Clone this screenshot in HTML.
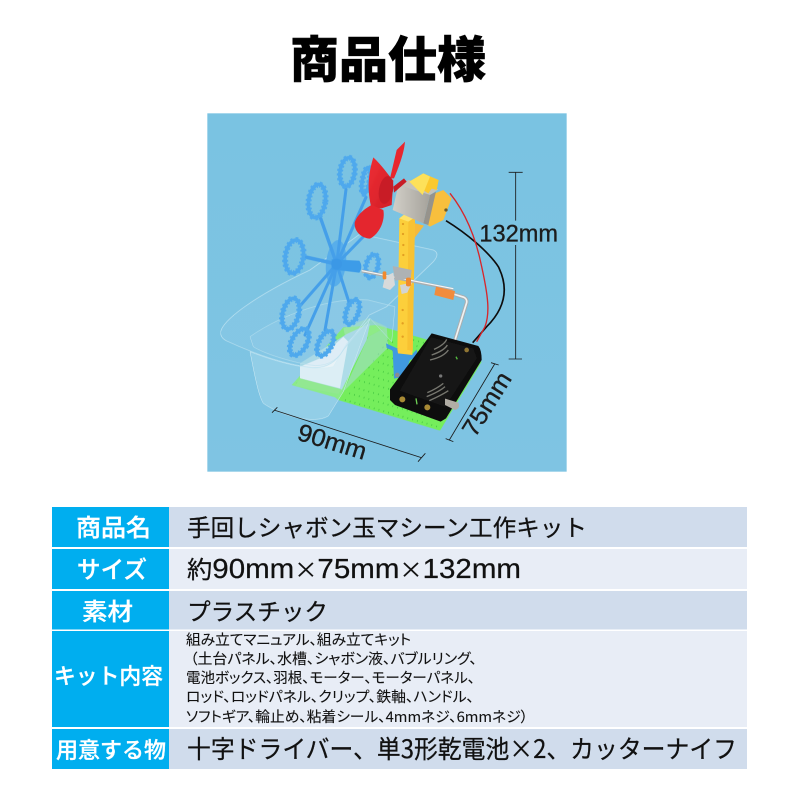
<!DOCTYPE html>
<html lang="ja"><head><meta charset="utf-8"><title>商品仕様</title>
<style>
html,body{margin:0;padding:0;background:#fff}
svg{display:block}
.l{fill:#fff;font-size:24px;font-weight:500;font-family:"Noto Sans CJK JP",sans-serif;text-anchor:middle;stroke:#fff;stroke-width:.3}
.v{fill:#111;font-size:23.5px;font-family:"Noto Sans CJK JP",sans-serif;stroke:#111;stroke-width:.25}
.s{fill:#111;font-size:14.5px;font-family:"Noto Sans CJK JP",sans-serif;stroke:#111;stroke-width:.1;font-feature-settings:"palt"}
</style></head><body>
<svg width="800" height="800" viewBox="0 0 800 800" xmlns="http://www.w3.org/2000/svg">
<defs>
<linearGradient id="bg" x1="0" y1="0" x2="0" y2="1"><stop offset="0" stop-color="#7ac3e2"/><stop offset="1" stop-color="#7fc4e3"/></linearGradient>
<linearGradient id="metal" x1="0" y1="0" x2="1" y2="0"><stop offset="0" stop-color="#d2cfc8"/><stop offset="1" stop-color="#a5a29b"/></linearGradient>
<linearGradient id="red" x1="0" y1="0" x2="1" y2="1"><stop offset="0" stop-color="#ef2e33"/><stop offset="1" stop-color="#d01e28"/></linearGradient>
<filter id="soft" x="0" y="0" width="100%" height="100%"><feGaussianBlur stdDeviation="1"/></filter>
</defs>
<rect width="800" height="800" fill="#fff"/>
<text x="388" y="77" text-anchor="middle" textLength="196" lengthAdjust="spacingAndGlyphs" font-size="49" font-weight="900" fill="#000" stroke="#000" stroke-width=".6" font-family="'Noto Sans CJK JP',sans-serif">商品仕様</text>

<g transform="translate(200 110) scale(.33333)">
<rect x="22" y="10" width="1078" height="1075" fill="url(#bg)"/>
<g filter="url(#soft)">
<!-- board -->
<path d="M275 825 L430 652 L530 645 L685 690 L845 755 L720 962 L415 870 L405 862 Z" fill="#74ee5c"/>
<g stroke="#38bb3a" stroke-width="5" stroke-dasharray="2 13" fill="none" opacity=".9">
<path d="M435 870 L712 950M448 850 L720 930M462 832 L735 910M478 812 L585 842M492 792 L580 818M506 772 L580 795M520 752 L585 772M534 732 L585 747M548 712 L585 723M562 692 L590 700M640 690 L695 705M650 708 L690 720M650 725 L680 735M290 820 L410 840"/>
</g>
<!-- tank side over board -->
<path d="M430 845 L505 680 L560 650 L565 712 Z" fill="#a9dcd4" fill-opacity=".55"/>
<path d="M430 655 L505 625 L560 650 L505 680 L440 700Z" fill="#a8e8b0" fill-opacity=".5"/>
<path d="M300 760 L440 672 L510 640 L500 690 L425 840 L300 805Z" fill="#a7d8e4"/>
<!-- white block -->
<path d="M300 770 L360 745 L430 680 L445 695 L420 835 L300 805Z" fill="#f1f6f8" fill-opacity=".9"/>
<path d="M300 805 L425 838 L415 852 L285 828Z" fill="#7eea68"/>

<!-- tank -->
<path d="M150 725 C165 800 175 855 190 880 C240 915 340 945 385 918 L430 845 L510 625 L440 700 L400 770 C340 785 240 760 150 725Z" fill="#bfe4f1" fill-opacity=".3" stroke="#d3edf6" stroke-width="1.500"/>
<path d="M62 665 C70 630 160 560 330 480 L480 372 L700 420 Q722 430 700 455 L560 590 L508 615 L430 720 Q395 780 330 772 C240 760 150 725 85 695 Q60 685 62 665Z" fill="#b4def0" fill-opacity=".14" stroke="#bfe3f1" stroke-width="2"/>
<path d="M150 680 C250 610 400 560 505 570 L585 590 L575 695 L510 625 L430 720 Q395 775 330 765 C270 755 190 730 160 710Z" fill="#c4e6f3" fill-opacity=".1" stroke="#bde2f0" stroke-width="1.500"/>

<!-- hub disc -->
<ellipse cx="408" cy="460" rx="30" ry="70" fill="#58aeea" transform="rotate(6 408 460)"/>
<!-- spokes -->
<g stroke="#459fe9" stroke-linecap="round" fill="none">
<path d="M410 462 L438 238" stroke-width="9"/>
<path d="M410 462 L498 262" stroke-width="9"/>
<path d="M410 462 L362 325" stroke-width="10"/>
<path d="M410 462 L312 440" stroke-width="11"/>
<path d="M410 462 L298 590" stroke-width="9"/>
<path d="M410 462 L315 675" stroke-width="9"/>
<path d="M410 462 L375 660" stroke-width="9"/>
<path d="M410 462 L448 580" stroke-width="9"/>
<path d="M410 462 L490 380" stroke-width="9"/>
</g>
<path d="M395 448 L478 452 Q490 470 478 488 L395 478Z" fill="#3d9ce8"/>
<circle cx="410" cy="462" r="16" fill="#3b98e6"/>
<!-- rings -->
<g fill="none" stroke="#4fa9ed">
<g stroke-width="11"><ellipse cx="442" cy="186" rx="22" ry="43" transform="rotate(8 442 186)"/>
<ellipse cx="351" cy="273" rx="25" ry="50" transform="rotate(8 351 273)"/>
<ellipse cx="283" cy="440" rx="27" ry="50" transform="rotate(8 283 440)"/>
<ellipse cx="272" cy="611" rx="24" ry="47" transform="rotate(14 272 611)"/>
<ellipse cx="298" cy="696" rx="23" ry="43" transform="rotate(28 298 696)"/>
<ellipse cx="376" cy="700" rx="20" ry="40" transform="rotate(26 376 700)"/>
<ellipse cx="457" cy="606" rx="18" ry="38" transform="rotate(20 457 606)"/>
<ellipse cx="516" cy="468" rx="18" ry="35" transform="rotate(14 516 468)"/>
<ellipse cx="498" cy="212" rx="11" ry="40" transform="rotate(10 498 212)"/></g>
<g stroke-width="18" stroke-dasharray="6 7"><ellipse cx="442" cy="186" rx="22" ry="43" transform="rotate(8 442 186)"/>
<ellipse cx="351" cy="273" rx="25" ry="50" transform="rotate(8 351 273)"/>
<ellipse cx="283" cy="440" rx="27" ry="50" transform="rotate(8 283 440)"/>
<ellipse cx="272" cy="611" rx="24" ry="47" transform="rotate(14 272 611)"/>
<ellipse cx="298" cy="696" rx="23" ry="43" transform="rotate(28 298 696)"/>
<ellipse cx="376" cy="700" rx="20" ry="40" transform="rotate(26 376 700)"/>
<ellipse cx="457" cy="606" rx="18" ry="38" transform="rotate(20 457 606)"/>
<ellipse cx="516" cy="468" rx="18" ry="35" transform="rotate(14 516 468)"/>
<ellipse cx="498" cy="212" rx="11" ry="40" transform="rotate(10 498 212)"/></g>
</g>

<!-- post -->
<path d="M645 340 L672 347 L645 382 L630 385Z" fill="#f5b93a"/>
<path d="M598 325 L620 308 L645 322 L638 725 L592 722Z" fill="#fccf3a"/>
<path d="M625 322 L645 322 L638 725 L622 725Z" fill="#f8c230"/>
<path d="M598 325 L620 308 L645 322 L625 335Z" fill="#fde26c"/>
<g fill="#e39f24"><circle cx="609" cy="342" r="3.500"/><circle cx="609" cy="372" r="3.500"/><circle cx="610" cy="405" r="3.500"/><circle cx="610" cy="435" r="3.500"/><circle cx="608" cy="600" r="3.500"/><circle cx="608" cy="640" r="3.500"/><circle cx="608" cy="680" r="3.500"/></g>

<!-- wires -->
<path d="M738 332 C800 370 865 425 895 470 C925 530 920 590 860 650 L818 698" fill="none" stroke="#111" stroke-width="5"/>
<path d="M750 250 C790 300 825 370 845 470 C865 560 870 610 855 650 L830 695" fill="none" stroke="#d8252a" stroke-width="4"/>

<!-- motor -->
<path d="M705 250 L730 240 L755 265 L730 330 L690 350 L682 345Z" fill="#f8bf3c"/>
<path d="M595 225 L625 210 L715 238 L690 255Z" fill="#c5c2ba"/>
<path d="M690 255 L708 245 L685 345 L670 340Z" fill="#96938c"/>
<path d="M595 225 L690 255 L670 340 L578 300 Z" fill="url(#metal)"/>
<path d="M628 215 L670 190 L716 210 L710 240 L695 236 L685 250Z" fill="#fbc92f"/>
<path d="M628 215 L670 190 L690 200 L668 255Z" fill="#fde15a"/>
<circle cx="738" cy="300" r="5" fill="#6b5a2a"/>
<!-- fan -->
<path d="M570 205 L590 120 L615 95 Q612 135 582 205Z" fill="#e8282f"/>
<path d="M520 142 C545 165 565 195 580 212 L575 285 L545 295 L515 295 C500 240 505 190 520 142Z" fill="url(#red)"/>
<path d="M515 285 L550 300 C556 330 540 370 510 386 C485 385 462 365 464 338 C470 315 495 295 515 285Z" fill="#e4282f"/>
<ellipse cx="558" cy="240" rx="21" ry="42" fill="#c81c28" transform="rotate(10 558 240)"/>
<path d="M580 230 L612 205 L620 215 L582 248Z" fill="#c81f28"/>

<!-- rod -->
<path d="M485 483 L760 538" stroke="#a9aeb0" stroke-width="9" fill="none"/>
<path d="M485 482 L760 536" stroke="#f4f6f6" stroke-width="3.500" fill="none"/>
<path d="M760 552 L792 562 Q802 567 800 578 L765 690 Q760 712 780 720 L822 736" fill="none" stroke="#a9aeb0" stroke-width="11"/>
<path d="M760 552 L792 562 Q802 567 800 578 L765 690 Q760 712 780 720 L822 736" fill="none" stroke="#f0f2f2" stroke-width="5"/>
<path d="M708 530 L765 543 L760 570 L703 555Z" fill="#f18c3e"/>
<!-- clip -->
<path d="M578 468 L635 480 L632 505 L585 512Z" fill="#aeb2b4"/>
<path d="M555 500 L580 488 L585 525 L570 540 L548 532Z" fill="#d8dada"/>
<path d="M600 525 L636 518 L622 548 L605 552Z" fill="#d2d4d4"/>
<rect x="548" y="484" width="11" height="24" rx="4" fill="#f08a2e"/>
<rect x="618" y="503" width="15" height="26" rx="5" fill="#f08a2e"/>

<!-- mount -->
<path d="M558 700 L585 712 L635 735 L650 718 L653 742 L630 750 L612 800 L582 806 L578 722 L560 714Z" fill="#3f9ae0"/>
<path d="M592 716 L637 722 L637 735 L594 730Z" fill="#fccf3a"/>
<circle cx="592" cy="795" r="7" fill="#8a8d90"/>

<!-- battery box -->
<path d="M695 670 L835 708 Q845 720 845 750 L738 925 L722 935 L585 885 L570 870 L570 838 Z" fill="#0d0d0d"/>
<path d="M693 682 L820 716 L830 745 L735 890 L600 842 Z" fill="#181818"/>
<g fill="none" stroke="#77776f" stroke-width="4"><path d="M690 750 C712 745 735 735 745 720M695 735 C715 728 735 718 742 705M702 718 C720 710 735 700 740 688"/><path d="M680 860 C700 852 722 842 735 830M688 872 C710 862 730 852 745 842M682 848 C700 840 718 830 730 820"/></g>
<path d="M735 866 L775 878 Q782 895 765 900 L735 885Z" fill="#b1ada5"/>
<circle cx="607" cy="868" r="9" fill="#a88a36"/><circle cx="682" cy="892" r="9" fill="#a88a36"/><circle cx="800" cy="720" r="7" fill="#8f7433"/>
<circle cx="722" cy="798" r="5" fill="#777"/>
<path d="M648 865 l3 18" stroke="#6ed057" stroke-width="4"/>
<path d="M768 740 l4 8" stroke="#55c040" stroke-width="4"/>

<!-- dimensions -->
<g stroke="#1a1a1a" stroke-width="2.500" fill="none">
<path d="M926 187 H968 M947 187 V332 M947 405 V747 M926 747 H966"/>
<path d="M216 908 L232 892 M222 900 L664 1043 M654 1055 L676 1030"/>
<path d="M873 758 L896 765 M884 762 L748 990 M737 986 L760 995"/>
</g>
<g fill="#1c1c1c" stroke="#1c1c1c" stroke-width="1" font-family="'Liberation Sans',sans-serif" font-size="73">
<text x="838" y="394" textLength="236" lengthAdjust="spacingAndGlyphs">132mm</text>
<text transform="translate(288 988) rotate(17)" textLength="212" lengthAdjust="spacingAndGlyphs">90mm</text>
<text transform="translate(825 985) rotate(-58)" textLength="212" lengthAdjust="spacingAndGlyphs">75mm</text>
</g>
</g>
</g>

<!-- table -->
<rect x="52" y="507" width="117" height="40" fill="#00aeef"/>
<rect x="52" y="549" width="117" height="40" fill="#00aeef"/>
<rect x="52" y="591" width="117" height="38.500" fill="#00aeef"/>
<rect x="52" y="631" width="117" height="96" fill="#00aeef"/>
<rect x="52" y="729" width="117" height="40" fill="#00aeef"/>
<rect x="169" y="507" width="578" height="40" fill="#d0dcec"/>
<rect x="169" y="549" width="578" height="40" fill="#e8edf6"/>
<rect x="169" y="591" width="578" height="38.500" fill="#d0dcec"/>
<rect x="169" y="631" width="578" height="96" fill="#e8edf6"/>
<rect x="169" y="729" width="578" height="40" fill="#d0dcec"/>

<text class="l" x="113.500" y="536" textLength="75" lengthAdjust="spacingAndGlyphs">商品名</text>
<text class="l" x="112" y="578" textLength="70" lengthAdjust="spacingAndGlyphs">サイズ</text>
<text class="l" x="107.500" y="620" textLength="51" lengthAdjust="spacingAndGlyphs">素材</text>
<text class="l" x="108.500" y="684" style="font-size:22px" textLength="109" lengthAdjust="spacingAndGlyphs">キット内容</text>
<text class="l" x="111" y="758" style="font-size:22px" textLength="110" lengthAdjust="spacingAndGlyphs">用意する物</text>

<text class="v" x="187" y="536" textLength="400" lengthAdjust="spacingAndGlyphs">手回しシャボン玉マシーン工作キット</text>
<text class="v" x="187" y="578" textLength="334" lengthAdjust="spacingAndGlyphs" style="font-size:28px;font-family:'Liberation Sans','Noto Sans CJK JP',sans-serif"><tspan style="font-size:24px;font-family:'Noto Sans CJK JP',sans-serif">約</tspan>90mm<tspan style="font-size:22px;font-family:'Noto Sans CJK JP',sans-serif">×</tspan>75mm<tspan style="font-size:22px;font-family:'Noto Sans CJK JP',sans-serif">×</tspan>132mm</text>
<text class="v" x="187" y="620" textLength="141" lengthAdjust="spacingAndGlyphs">プラスチック</text>
<text class="s" x="186" y="645" textLength="225" lengthAdjust="spacingAndGlyphs">組み立てマニュアル、組み立てキット</text>
<text class="s" x="190" y="664" textLength="287" lengthAdjust="spacingAndGlyphs">（土台パネル、水槽、シャボン液、バブルリング、</text>
<text class="s" x="186" y="683" textLength="289" lengthAdjust="spacingAndGlyphs">電池ボックス、羽根、モーター、モーターパネル、</text>
<text class="s" x="186" y="702" textLength="288" lengthAdjust="spacingAndGlyphs">ロッド、ロッドパネル、クリップ、鉄軸、ハンドル、</text>
<text class="s" x="186" y="722" textLength="342" lengthAdjust="spacingAndGlyphs">ソフトギア、輪止め、粘着シール、4mmネジ、6mmネジ）</text>
<text class="v" x="187" y="758" textLength="550" lengthAdjust="spacingAndGlyphs" style="font-size:25px">十字ドライバー、単3形乾電池×2、カッターナイフ</text>
</svg>
</body></html>
